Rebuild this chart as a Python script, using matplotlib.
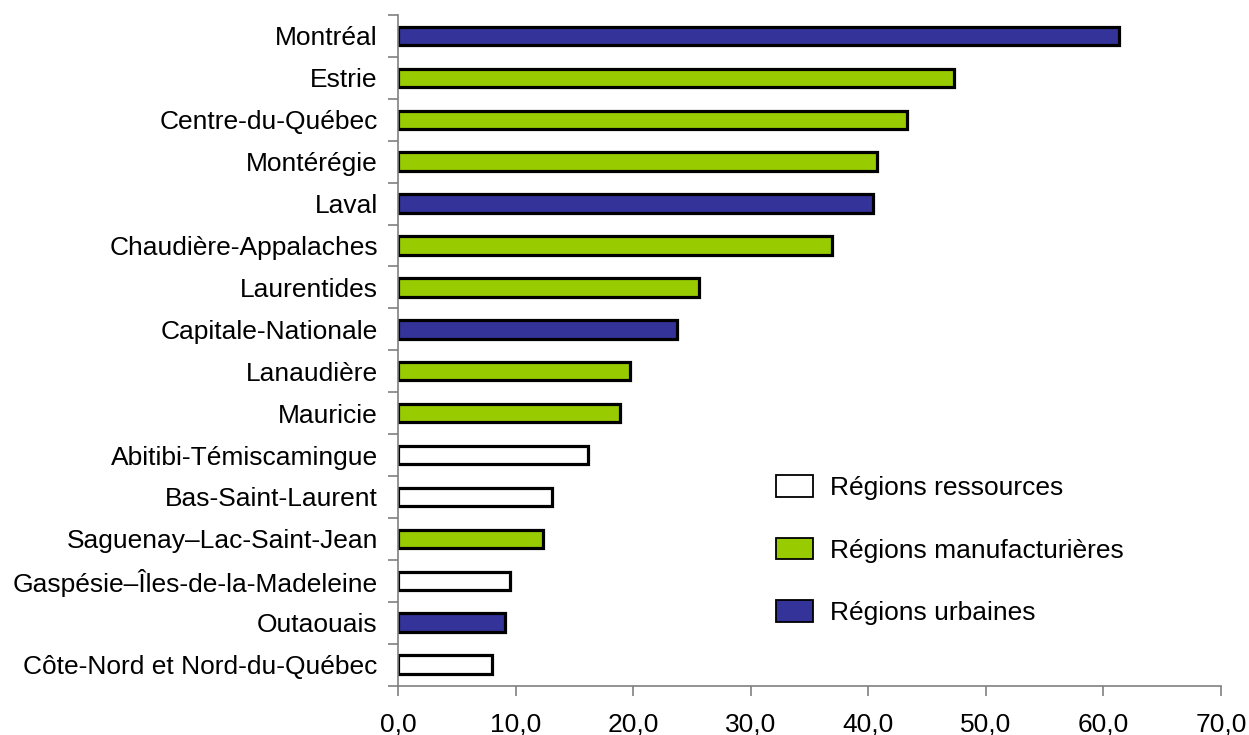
import matplotlib.pyplot as plt
import numpy as np
from matplotlib.patches import Patch
from matplotlib.ticker import FuncFormatter, FixedLocator

plt.rcParams["font.family"] = ["Liberation Sans", "DejaVu Sans"]

# regions, top to bottom
regions = [
    "Montréal", "Estrie", "Centre-du-Québec", "Montérégie", "Laval",
    "Chaudière-Appalaches", "Laurentides", "Capitale-Nationale",
    "Lanaudière", "Mauricie", "Abitibi-Témiscamingue", "Bas-Saint-Laurent",
    "Saguenay–Lac-Saint-Jean", "Gaspésie–Îles-de-la-Madeleine",
    "Outaouais", "Côte-Nord et Nord-du-Québec",
]
values = [61.3, 47.3, 43.3, 40.7, 40.4, 36.9, 25.6, 23.7,
          19.7, 18.9, 16.2, 13.1, 12.3, 9.5, 9.1, 8.0]
kinds = ["urb", "man", "man", "man", "urb", "man", "man", "urb",
         "man", "man", "res", "res", "man", "res", "urb", "res"]

kind_labels = {
    "res": "Régions ressources",
    "man": "Régions manufacturières",
    "urb": "Régions urbaines",
}
kind_colors = {"res": "#FFFFFF", "man": "#99CC00", "urb": "#333399"}

fs = 19

fig = plt.figure(figsize=(12.49, 7.35), dpi=100)
ax = fig.add_axes([398 / 1249, 1 - 685.5 / 735, (1221 - 398) / 1249, (685.5 - 15) / 735])

ypos = np.arange(len(regions))
ax.barh(ypos, values, height=0.44,
        color=[kind_colors[k] for k in kinds],
        edgecolor="black", linewidth=2.3)

ax.set_xlim(0, 70)
ax.set_ylim(len(regions) - 0.5, -0.5)

ax.set_xticks(np.arange(0, 71, 10))
ax.xaxis.set_major_formatter(FuncFormatter(lambda v, p: f"{v:.1f}".replace(".", ",")))
ax.tick_params(axis="x", direction="out", length=7, width=1.2, color="#808080",
               labelsize=fs, pad=12.5)

ax.set_yticks(ypos)
ax.set_yticklabels(regions)
ax.tick_params(axis="y", which="major", length=0, labelsize=fs, pad=14.5)
ax.yaxis.set_minor_locator(FixedLocator(np.arange(-0.5, len(regions) + 0.5, 1)))
ax.tick_params(axis="y", which="minor", direction="out", length=7, width=1.2,
               color="#808080")

for side in ("top", "right"):
    ax.spines[side].set_visible(False)
for side in ("left", "bottom"):
    ax.spines[side].set_color("#808080")
    ax.spines[side].set_linewidth(1.2)

handles = [Patch(facecolor=kind_colors[k], edgecolor="black", linewidth=1.3,
                 label=kind_labels[k]) for k in ("res", "man", "urb")]
fig.legend(handles=handles, loc="upper left",
           bbox_to_anchor=(776 / 1249, 1 - 475 / 735),
           frameon=False, fontsize=fs, borderpad=0, borderaxespad=0,
           handlelength=1.4, handleheight=0.9, handletextpad=0.65,
           labelspacing=1.42)

fig.savefig("out.png", dpi=100)
